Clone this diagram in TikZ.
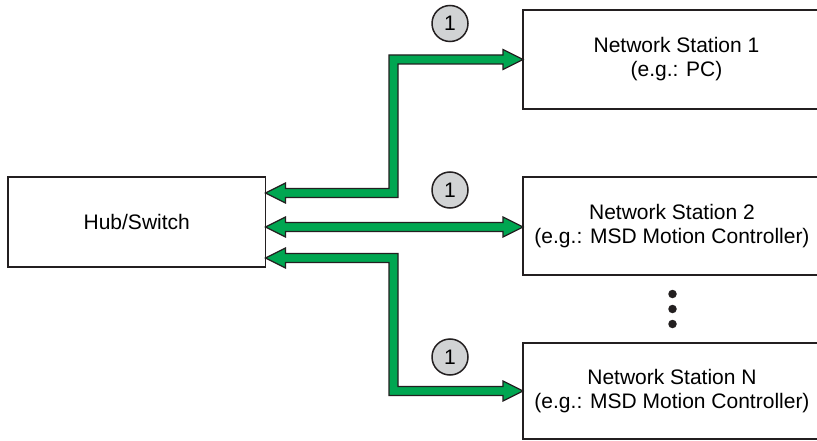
\documentclass[tikz,border=0pt]{standalone}
\usepackage{fontspec}
\setmainfont{Liberation Sans}
\usetikzlibrary{calc}
\definecolor{gr}{HTML}{00A651}
\definecolor{dk}{HTML}{231F20}
\definecolor{cg}{HTML}{D1D3D4}
\begin{document}
\begin{tikzpicture}[x=1pt,y=-1pt,
  box/.style={draw=dk,line width=1.5pt,inner sep=0pt,outer sep=0pt,align=center,font=\fontsize{21}{24}\selectfont},
  garrow/.style={fill=gr,draw=dk,line width=1.2pt,line join=miter},
  num/.style={circle,draw=dk,fill=cg,line width=1.5pt,minimum size=36pt,inner sep=0pt,font=\fontsize{21}{21}\selectfont},
  dot/.style={circle,fill=dk,inner sep=0pt,minimum size=8.5pt}]
\clip (0,0) rectangle (817,441);
\useasboundingbox (0,0) rectangle (817,441);
\fill[white] (0,0) rectangle (817,441);

\node[box,minimum width=257.5pt,minimum height=90pt] (hub) at (136.75,222) {Hub/Switch};
\node[box,minimum width=307pt,minimum height=99pt] (st1) at (676.5,59.5) {Network Station 1\\(e.g.: PC)};
\node[box,minimum width=298pt,minimum height=98pt] (st2) at (672,226) {Network Station 2\\(e.g.: MSD Motion Controller)};
\node[box,minimum width=298pt,minimum height=96pt] (stN) at (672,391) {Network Station N\\(e.g.: MSD Motion Controller)};

\coordinate (v) at (393.5,0);
\path (hub.east) ++(0,-29) coordinate (h1);
\path (hub.east) ++(0,5) coordinate (h2);
\path (hub.east) ++(0,36) coordinate (h3);
\coordinate (s1) at (st1.west);
\coordinate (s2) at (st2.west |- h2);
\coordinate (s3) at (stN.west);

% arrow hub <-> station 1
\draw[garrow] (h1) -- ($(h1)+(20,-10)$) -- ($(h1)+(20,-4.5)$) -- ($(h1 -| v)+(-4.5,-4.5)$)
  -- ($(s1 -| v)+(-4.5,-4.5)$) -- ($(s1)+(-20,-4.5)$) -- ($(s1)+(-20,-10)$) -- (s1)
  -- ($(s1)+(-20,10)$) -- ($(s1)+(-20,4.5)$) -- ($(s1 -| v)+(4.5,4.5)$)
  -- ($(h1 -| v)+(4.5,4.5)$) -- ($(h1)+(20,4.5)$) -- ($(h1)+(20,10)$) -- cycle;

% arrow hub <-> station 2
\draw[garrow] (h2) -- ($(h2)+(20,-10)$) -- ($(h2)+(20,-4.5)$) -- ($(s2)+(-20,-4.5)$)
  -- ($(s2)+(-20,-10)$) -- (s2) -- ($(s2)+(-20,10)$) -- ($(s2)+(-20,4.5)$)
  -- ($(h2)+(20,4.5)$) -- ($(h2)+(20,10)$) -- cycle;

% arrow hub <-> station N
\draw[garrow] (h3) -- ($(h3)+(20,-10)$) -- ($(h3)+(20,-4.5)$) -- ($(h3 -| v)+(4.5,-4.5)$)
  -- ($(s3 -| v)+(4.5,-4.5)$) -- ($(s3)+(-20,-4.5)$) -- ($(s3)+(-20,-10)$) -- (s3)
  -- ($(s3)+(-20,10)$) -- ($(s3)+(-20,4.5)$) -- ($(s3 -| v)+(-4.5,4.5)$)
  -- ($(h3 -| v)+(-4.5,4.5)$) -- ($(h3)+(20,4.5)$) -- ($(h3)+(20,10)$) -- cycle;

\node[num] (n1) at (450,23.5) {1};
\node[num] (n2) at (450,190) {1};
\node[num] (n3) at (450,357) {1};

\node[dot] (d1) at (672.5,294) {};
\node[dot] (d2) at (672.5,309) {};
\node[dot] (d3) at (672.5,324) {};
\end{tikzpicture}
\end{document}
